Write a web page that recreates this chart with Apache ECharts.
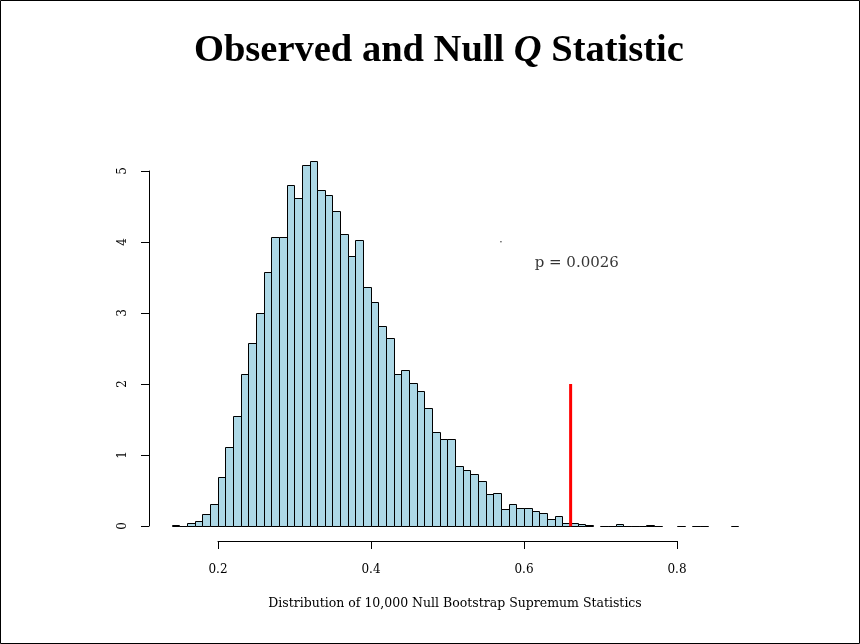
<!DOCTYPE html>
<html><head><meta charset="utf-8">
<script src="https://cdn.jsdelivr.net/npm/echarts@6/dist/echarts.min.js"></script>
<style>html,body{margin:0;padding:0;background:#fff}#c{width:860px;height:644px}</style>
</head><body><div id="c"></div>
<script>
// ---- data ----
const binStart = 0.14;
const binWidth = 0.01;
const density = [
  0.02, 0.01, 0.05, 0.08, 0.18, 0.31, 0.69, 1.12, 1.55, 2.14,
  2.58, 3.00, 3.57, 4.07, 4.06, 4.80, 4.61, 5.08, 5.14, 4.73,
  4.65, 4.43, 4.11, 3.80, 4.02, 3.37, 3.15, 2.82, 2.65, 2.14,
  2.20, 2.02, 1.90, 1.66, 1.32, 1.23, 1.23, 0.85, 0.79, 0.73,
  0.64, 0.46, 0.47, 0.24, 0.31, 0.26, 0.26, 0.21, 0.19, 0.11,
  0.15, 0.05, 0.05, 0.04, 0.02, 0.00, 0.01, 0.01, 0.04, 0.01,
  0.01, 0.01, 0.02, 0.01, 0.00, 0.00, 0.01, 0.00, 0.01, 0.01,
  0.00, 0.00, 0.00, 0.01
];
const xTicks = [0.2, 0.4, 0.6, 0.8];
const yTicks = [0, 1, 2, 3, 4, 5];
const observedQ = [[0.661, 0], [0.661, 2]];
const pLabel = 'p = 0.0026';
const pLabelPos = [0.669, 3.70];
const dotPos = [0.57, 4.0];
const xAxisTitle = 'Distribution of 10,000 Null Bootstrap Supremum Statistics';

// ---- derived ----
const bins = density.map((d, i) => [binStart + i * binWidth, binStart + (i + 1) * binWidth, d]);
const xLo = binStart, xHi = binStart + density.length * binWidth;
const xPad = (xHi - xLo) * 0.04;
const yMax = Math.max(...density);
const yPad = yMax * 0.04;

const serif = '"DejaVu Serif", serif';
const snap = v => Math.round(v) + 0.5;
const chart = echarts.init(document.getElementById('c'), null, {renderer: 'canvas'});
chart.setOption({
  animation: false,
  backgroundColor: '#fff',
  title: [{
    text: '{b|Observed and Null }{i|Q}{b| Statistic}',
    left: 194,
    top: 32,
    padding: 0,
    textStyle: {
      rich: {
        b: {fontFamily: '"Liberation Serif", serif', fontWeight: 'bold', fontSize: 38.5, color: '#000'},
        i: {fontFamily: '"Liberation Serif", serif', fontStyle: 'italic', fontSize: 38.5, color: '#000'}
      }
    }
  }],
  graphic: [{
    type: 'rect', silent: true,
    shape: {x: 0.5, y: 0.5, width: 859, height: 643},
    style: {fill: 'none', stroke: '#000', lineWidth: 1}
  }],
  grid: [
    {left: 149, right: 99, top: 146, bottom: 103},
    {left: 218, right: 183, top: 146, bottom: 103},
    {left: 149, width: 100, top: 171, bottom: 118}
  ],
  xAxis: [
    {gridIndex: 0, type: 'value', min: xLo - xPad, max: xHi + xPad,
     axisLine: {show: false}, axisTick: {show: false}, axisLabel: {show: false}, splitLine: {show: false},
     name: xAxisTitle, nameLocation: 'middle', nameGap: 56,
     nameTextStyle: {fontFamily: serif, fontSize: 12.5, color: '#000'}},
    {gridIndex: 1, type: 'value', min: 0.2, max: 0.8, interval: 0.2,
     axisLine: {show: true, lineStyle: {color: '#000', width: 1}},
     axisTick: {show: true, inside: false, length: 8, lineStyle: {color: '#000'}},
     axisLabel: {show: true, margin: 23, fontFamily: serif, fontSize: 12, color: '#000',
                 formatter: v => xTicks.includes(+v.toFixed(1)) ? v.toFixed(1) : ''},
     splitLine: {show: false}},
    {gridIndex: 2, type: 'value', show: false}
  ],
  yAxis: [
    {gridIndex: 0, type: 'value', min: -yPad, max: yMax + yPad, show: false},
    {gridIndex: 1, type: 'value', show: false},
    {gridIndex: 2, type: 'value', min: 0, max: 5, interval: 1,
     axisLine: {show: true, lineStyle: {color: '#000', width: 1}},
     axisTick: {show: true, length: 8, lineStyle: {color: '#000'}},
     axisLabel: {show: true, rotate: 90, margin: 20, fontFamily: serif, fontSize: 12, color: '#000',
                 formatter: v => yTicks.includes(v) ? String(v) : ''},
     splitLine: {show: false}}
  ],
  series: [
    {
      type: 'custom', xAxisIndex: 0, yAxisIndex: 0, clip: false,
      data: bins,
      encode: {x: [0, 1], y: 2},
      renderItem: (params, api) => {
        const h = api.value(2);
        if (!(h > 0)) return null;
        const p0 = api.coord([api.value(0), h]);
        const p1 = api.coord([api.value(1), 0]);
        const x0 = snap(p0[0]), x1 = snap(p1[0]);
        const y0 = snap(p0[1]), y1 = snap(p1[1]);
        return {
          type: 'rect',
          shape: {x: x0, y: y0, width: x1 - x0, height: y1 - y0},
          style: {fill: '#ADD8E6', stroke: '#000', lineWidth: 1}
        };
      }
    },
    {
      type: 'line', xAxisIndex: 0, yAxisIndex: 0, data: observedQ,
      symbol: 'none', lineStyle: {color: '#ff0000', width: 3}, z: 5
    },
    {
      type: 'scatter', xAxisIndex: 0, yAxisIndex: 0, data: [dotPos],
      symbol: 'circle', symbolSize: 1.5, itemStyle: {color: '#000'}
    },
    {
      type: 'scatter', xAxisIndex: 0, yAxisIndex: 0, data: [pLabelPos],
      symbolSize: 0,
      label: {show: true, position: 'inside', formatter: pLabel,
              fontFamily: serif, fontSize: 15, color: '#000'}
    }
  ]
});
</script></body></html>
